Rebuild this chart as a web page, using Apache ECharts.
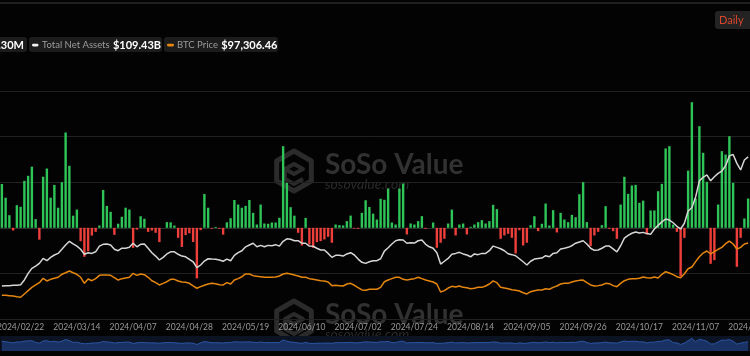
<!DOCTYPE html>
<html><head><meta charset="utf-8">
<script src="https://cdn.jsdelivr.net/npm/echarts@6.0.0/dist/echarts.min.js"></script>
<style>html,body{margin:0;padding:0;background:#030303;}#c{width:750px;height:356px;}</style>
</head><body><div id="c"></div>
<script>
const categories = [
'2024/02/14','2024/02/15','2024/02/19','2024/02/20','2024/02/21','2024/02/22','2024/02/25','2024/02/26','2024/02/27','2024/02/28',
'2024/02/29','2024/03/03','2024/03/04','2024/03/05','2024/03/06','2024/03/07','2024/03/10','2024/03/11','2024/03/12','2024/03/13',
'2024/03/14','2024/03/17','2024/03/18','2024/03/19','2024/03/20','2024/03/21','2024/03/24','2024/03/25','2024/03/26','2024/03/27',
'2024/03/31','2024/04/01','2024/04/02','2024/04/03','2024/04/04','2024/04/07','2024/04/08','2024/04/09','2024/04/10','2024/04/11',
'2024/04/14','2024/04/15','2024/04/16','2024/04/17','2024/04/18','2024/04/21','2024/04/22','2024/04/23','2024/04/24','2024/04/25',
'2024/04/28','2024/04/29','2024/04/30','2024/05/01','2024/05/02','2024/05/05','2024/05/06','2024/05/07','2024/05/08','2024/05/09',
'2024/05/12','2024/05/13','2024/05/14','2024/05/15','2024/05/16','2024/05/19','2024/05/20','2024/05/21','2024/05/22','2024/05/23',
'2024/05/27','2024/05/28','2024/05/29','2024/05/30','2024/06/02','2024/06/03','2024/06/04','2024/06/05','2024/06/06','2024/06/09',
'2024/06/10','2024/06/11','2024/06/12','2024/06/13','2024/06/16','2024/06/17','2024/06/19','2024/06/20','2024/06/23','2024/06/24',
'2024/06/25','2024/06/26','2024/06/27','2024/06/30','2024/07/01','2024/07/02','2024/07/04','2024/07/07','2024/07/08','2024/07/09',
'2024/07/10','2024/07/11','2024/07/14','2024/07/15','2024/07/16','2024/07/17','2024/07/18','2024/07/21','2024/07/22','2024/07/23',
'2024/07/24','2024/07/25','2024/07/28','2024/07/29','2024/07/30','2024/07/31','2024/08/01','2024/08/04','2024/08/05','2024/08/06',
'2024/08/07','2024/08/08','2024/08/11','2024/08/12','2024/08/13','2024/08/14','2024/08/15','2024/08/18','2024/08/19','2024/08/20',
'2024/08/21','2024/08/22','2024/08/25','2024/08/26','2024/08/27','2024/08/28','2024/08/29','2024/09/02','2024/09/03','2024/09/04',
'2024/09/05','2024/09/08','2024/09/09','2024/09/10','2024/09/11','2024/09/12','2024/09/15','2024/09/16','2024/09/17','2024/09/18',
'2024/09/19','2024/09/22','2024/09/23','2024/09/24','2024/09/25','2024/09/26','2024/09/29','2024/09/30','2024/10/01','2024/10/02',
'2024/10/03','2024/10/06','2024/10/07','2024/10/08','2024/10/09','2024/10/10','2024/10/13','2024/10/14','2024/10/15','2024/10/16',
'2024/10/17','2024/10/20','2024/10/21','2024/10/22','2024/10/23','2024/10/24','2024/10/27','2024/10/28','2024/10/29','2024/10/30',
'2024/10/31','2024/11/03','2024/11/04','2024/11/05','2024/11/06','2024/11/07','2024/11/10','2024/11/11','2024/11/12','2024/11/13',
'2024/11/14','2024/11/17','2024/11/18','2024/11/19','2024/11/20','2024/11/21','2024/11/24','2024/11/25','2024/11/26','2024/11/28',
'2024/12/01'];

const tickLabels = ['2024/02/22','2024/03/14','2024/04/07','2024/04/28','2024/05/19','2024/06/10','2024/07/02',
'2024/07/24','2024/08/14','2024/09/05','2024/09/26','2024/10/17','2024/11/07','2024/12/01'];

// Daily total net inflow, million USD
const dailyNetInflow = [
480,330,138,-30,248,230,515,570,670,95,
-130,560,650,330,470,220,500,1045,680,133,
200,-147,-318,-257,-85,-44,25,415,240,175,
-77,45,120,220,200,-220,-20,127,99,-45,
-30,-55,-157,0,62,60,25,-110,-210,-80,
-60,-155,-555,-25,370,220,-10,10,-10,-75,
60,105,305,255,220,240,305,164,36,255,
47,44,58,58,110,895,493,226,133,-55,
-194,108,-183,-219,-157,-146,-128,-99,-164,36,
29,26,73,134,-8,-11,164,302,228,155,
91,318,307,430,58,36,430,485,-73,47,
36,73,128,-11,0,58,-219,-164,-120,47,
200,-84,36,47,-73,11,36,62,84,47,
73,252,205,-121,-84,-66,-110,-282,-26,-194,
-164,29,127,-37,44,266,25,193,-51,164,
91,62,142,116,368,500,62,-201,-84,-44,
29,237,-11,-37,-121,255,559,372,464,471,
274,298,-73,190,190,401,482,870,895,35,
-45,-532,-110,627,1377,320,1114,822,504,-395,
-355,255,840,803,1004,493,-428,-110,102,321,
null];

// Total net assets, billion USD
const totalNetAssets = [
37.0,37.2,37.2,37.4,37.4,37.7,40.4,44.1,46.9,48.2,
49.7,52.5,51.2,53.1,54.4,55.3,57.6,60.0,62.1,60.6,
59.4,57.6,54.8,55.7,55.3,56.2,59.4,60.4,60.6,60.0,
57.6,56.8,58.2,58.2,58.7,61.0,59.0,60.4,60.6,58.2,
55.7,53.8,51.6,53.1,55.0,56.2,56.2,54.8,53.8,53.4,
52.0,50.6,47.3,48.8,51.0,52.3,52.1,52.0,51.6,50.9,
52.1,51.2,54.2,55.7,56.8,59.0,60.0,61.0,59.0,59.8,
59.0,59.8,59.6,60.2,59.4,62.1,63.5,63.2,62.4,62.4,
61.0,61.0,59.4,59.3,58.2,57.2,57.2,55.3,53.1,54.2,
54.2,53.8,55.0,55.7,54.4,52.1,50.3,49.7,50.6,51.2,
51.2,52.3,56.6,58.5,60.6,62.4,63.0,62.8,61.0,61.3,
61.1,62.4,62.8,60.4,59.0,58.2,55.7,49.3,50.9,52.5,
54.8,55.3,55.9,55.0,54.4,53.4,55.0,54.6,55.3,55.3,
56.8,59.4,58.7,57.9,56.8,55.1,54.6,54.0,52.3,50.6,
48.8,50.9,52.1,52.5,52.7,54.0,53.4,55.3,55.7,57.8,
58.2,58.7,59.6,61.0,61.7,62.4,60.6,58.2,57.0,57.2,
58.2,59.4,59.4,57.8,56.2,59.6,63.9,65.4,66.6,67.3,
66.7,67.1,66.4,66.0,69.0,71.0,73.0,74.6,74.0,72.5,
70.5,69.0,72.2,79.1,80.9,87.0,96.0,98.0,99.3,96.0,
98.3,100.2,101.5,104.5,110.0,110.8,105.8,102.1,107.7,109.43,
null];

// BTC price, USD
const btcPrice = [
51500,51500,51200,50900,50300,49800,52700,55600,58500,60600,
62600,66400,64100,65500,66400,67300,69900,71300,72800,71300,
69900,67300,62000,65800,64300,66100,69000,69300,69300,69000,
67000,64900,66100,66700,67300,70800,69000,70200,69600,67300,
64300,62600,60600,62000,63400,65500,65500,64100,63200,62900,
62000,59700,57700,59100,60300,61400,62000,61700,60800,60600,
62600,61400,64900,66100,67800,70200,70200,68700,68200,67800,
67300,67300,67300,67600,68400,70200,70800,70200,69300,68400,
67300,67300,66100,65500,64900,64300,64100,63200,60000,60300,
60000,59700,61400,62000,60300,58200,56200,55900,56800,56800,
56800,58500,63400,64900,66100,67300,67300,65500,64900,65500,
66100,67300,66100,64900,64100,63200,61400,54400,55600,57900,
59400,58800,59700,58500,58200,57300,57700,58500,58500,59700,
61400,64100,62600,58500,57900,57300,56400,55900,55300,53800,
52700,54700,55600,56200,56200,57300,56800,58500,59700,61400,
62000,62000,63200,64100,64600,64900,62600,60600,59700,60000,
60600,62000,61700,60000,59100,62000,64300,65500,66100,66100,
66400,67500,66900,66700,67500,66700,69900,72200,71000,69600,
67800,66900,70400,74800,76300,81000,85300,88500,90300,87700,
89700,91800,93500,96700,99000,96400,92000,93500,96400,97306.46,
null];

const legendItems = [
  {name:'Total Daily Net Inflow', value:'$320.30M'},
  {name:'Total Net Assets', value:'$109.43B'},
  {name:'BTC Price', value:'$97,306.46'}
];

const GREEN = '#2fc458', RED = '#ee3f3a', WHITE = '#d6d6d6', ORANGE = '#e5860f';
const BAND = 3.75;
const FONT = 'Lato, "Noto Sans", sans-serif';

function watermark(dy) {
  const cx = 294, cy = 171 + dy, r = 20;
  const pts = [];
  for (let i = 0; i < 6; i++) {
    const a = Math.PI / 180 * (90 + 60 * i);
    pts.push([cx + r * Math.cos(a), cy - r * Math.sin(a)]);
  }
  const col = '#2b2b2b';
  return [
    {type:'polygon', shape:{points:pts}, style:{fill:'none', stroke:col, lineWidth:5, lineJoin:'round'}, silent:true, z:-5},
    {type:'polyline', shape:{points:[[cx-9,cy-2],[cx,cy-7],[cx+9,cy-2],[cx,cy+3],[cx-9,cy-2],[cx-9,cy+8],[cx,cy+13],[cx+9,cy+8]]}, style:{fill:'none', stroke:col, lineWidth:4, lineJoin:'round'}, silent:true, z:-5},
    {type:'text', x:325, y:165 + dy, style:{text:'SoSo Value', fill:'#313131', font:'bold 28px '+FONT, textVerticalAlign:'middle'}, silent:true, z:-5},
    {type:'text', x:325, y:184 + dy, style:{text:'sosovalue.com', fill:'#2a2a2a', font:'italic 14px '+FONT, textVerticalAlign:'middle'}, silent:true, z:-5}
  ];
}

const gridWidth = categories.length * BAND;
const chart = echarts.init(document.getElementById('c'), null, {renderer:'canvas'});
chart.setOption({
  backgroundColor:'#030303',
  animation:false,
  grid:[
    {left:0, top:91, height:228, width:gridWidth, outerBoundsMode:'none', containLabel:false},
    {left:0, top:336, height:15, width:gridWidth, outerBoundsMode:'none', containLabel:false}
  ],
  xAxis:[{
    type:'category', data:categories, boundaryGap:true, gridIndex:0,
    axisLine:{show:true, lineStyle:{color:'#2e2e2e', width:1}},
    axisTick:{show:false},
    axisLabel:{color:'#9a9a9a', fontSize:8.5, fontFamily:FONT, margin:4,
      interval:(i, v) => tickLabels.indexOf(v) >= 0, hideOverlap:false},
    splitLine:{show:false}
  },{
    type:'category', data:categories, boundaryGap:true, gridIndex:1, show:false
  }],
  yAxis:[
    {type:'value', min:-1000, max:1500, interval:500, axisLabel:{show:false}, axisLine:{show:false}, axisTick:{show:false},
     splitLine:{show:true, lineStyle:{color:'#222222', width:1}}},
    {type:'value', min:18.5, max:146.4, show:false, splitLine:{show:false}},
    {type:'value', min:30800, max:230300, show:false, splitLine:{show:false}},
    {type:'value', gridIndex:1, min:-2610, max:2140, show:false, splitLine:{show:false}}
  ],
  dataZoom:[{
    type:'slider', xAxisIndex:[0,1], start:0, end:100, left:0, right:0, top:336, height:15, z:1,
    backgroundColor:'#0c1322', borderColor:'rgba(0,0,0,0)', borderRadius:0,
    fillerColor:'rgba(0,0,0,0)', handleSize:0, handleStyle:{opacity:0, borderWidth:0},
    moveHandleSize:0, showDetail:false, showDataShadow:false, brushSelect:false, zoomLock:true,
    emphasis:{handleStyle:{opacity:0}, moveHandleStyle:{opacity:0}}
  }],
  series:[
    {type:'bar', name:'Total Daily Net Inflow', data:dailyNetInflow, yAxisIndex:0, barWidth:'64%',
     itemStyle:{color:(p) => p.value >= 0 ? GREEN : RED}, z:2},
    {type:'line', name:'Total Net Assets', data:totalNetAssets, yAxisIndex:1, showSymbol:false, symbol:'none',
     lineStyle:{color:WHITE, width:1.5}, itemStyle:{color:WHITE}, z:3},
    {type:'line', name:'BTC Price', data:btcPrice, yAxisIndex:2, showSymbol:false, symbol:'none',
     lineStyle:{color:ORANGE, width:1.5}, itemStyle:{color:ORANGE}, z:3},
    {type:'line', name:'inflowShadow', data:dailyNetInflow, xAxisIndex:1, yAxisIndex:3, showSymbol:false, symbol:'none',
     silent:true, lineStyle:{color:'#2b55a3', width:1}, areaStyle:{color:'#1a3263', opacity:1, origin:'start'}, z:5}
  ],
  graphic:[
    {type:'rect', shape:{x:0, y:2, width:750, height:2}, style:{fill:'#1f1f1f'}, silent:true},
    ...watermark(0), ...watermark(150),
    {type:'rect', shape:{x:-150, y:37, width:177, height:15, r:3}, style:{fill:'#1c1c1c'}, silent:true},
    {type:'text', x:24, y:45, style:{text:'{n|'+legendItems[0].name+'} {v|'+legendItems[0].value+'}', align:'right', verticalAlign:'middle',
      rich:{n:{fill:'#9c9c9c', font:'9.5px '+FONT}, v:{fill:'#ffffff', font:'bold 11px '+FONT}}}, silent:true},
    {type:'rect', shape:{x:29, y:37, width:133, height:15, r:3}, style:{fill:'#1c1c1c'}, silent:true},
    {type:'rect', shape:{x:32, y:43.8, width:6.5, height:2.6, r:1.3}, style:{fill:'#f2f2f2'}, silent:true},
    {type:'text', x:42, y:45, style:{text:'{n|'+legendItems[1].name+'} {v|'+legendItems[1].value+'}', verticalAlign:'middle',
      rich:{n:{fill:'#9c9c9c', font:'9.5px '+FONT}, v:{fill:'#ffffff', font:'bold 11px '+FONT}}}, silent:true},
    {type:'rect', shape:{x:164, y:37, width:114, height:15, r:3}, style:{fill:'#1c1c1c'}, silent:true},
    {type:'rect', shape:{x:167, y:43.8, width:7, height:2.6, r:1.3}, style:{fill:ORANGE}, silent:true},
    {type:'text', x:177, y:45, style:{text:'{n|'+legendItems[2].name+'} {v|'+legendItems[2].value+'}', verticalAlign:'middle',
      rich:{n:{fill:'#9c9c9c', font:'9.5px '+FONT}, v:{fill:'#ffffff', font:'bold 11px '+FONT}}}, silent:true},
    {type:'rect', shape:{x:715, y:11, width:45, height:18, r:3}, style:{fill:'#232323'}, silent:true},
    {type:'text', x:719, y:20.5, style:{text:'Daily', fill:'#d8462c', font:'11px '+FONT, verticalAlign:'middle'}, silent:true}
  ]
});
</script></body></html>
